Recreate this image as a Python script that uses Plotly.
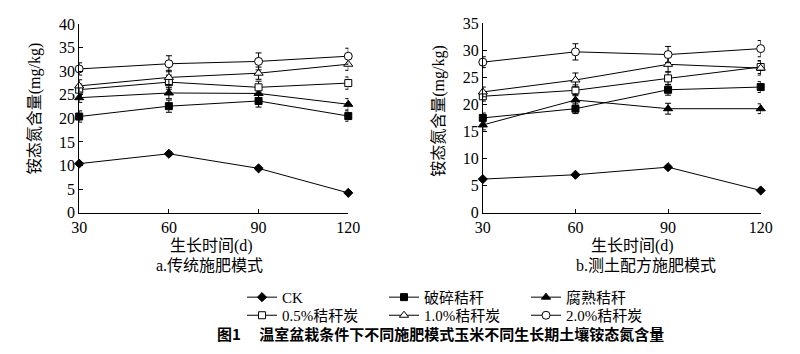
import plotly.graph_objects as go

days = [30, 60, 90, 120]
series_names = ["CK", "破碎秸秆", "腐熟秸秆", "0.5%秸秆炭", "1.0%秸秆炭", "2.0%秸秆炭"]

# a. 传统施肥模式
a_ck = [10.4, 12.5, 9.4, 4.2]
a_broken = [20.4, 22.6, 23.7, 20.5]
a_composted = [24.4, 25.4, 25.3, 23.0]
a_bc05 = [26.1, 27.7, 26.6, 27.5]
a_bc10 = [26.9, 28.7, 29.6, 31.5]
a_bc20 = [30.5, 31.6, 32.1, 33.2]
a_ck_err = [0.3, 0.4, 0.3, 0.2]
a_broken_err = [1.2, 1.3, 1.3, 1.1]
a_composted_err = [1.0, 1.2, 1.0, 1.2]
a_bc05_err = [1.2, 1.5, 1.3, 1.3]
a_bc10_err = [1.3, 1.5, 1.3, 1.3]
a_bc20_err = [1.3, 1.7, 1.8, 1.7]

# b. 测土配方施肥模式
b_ck = [6.2, 7.0, 8.4, 4.1]
b_broken = [17.5, 19.2, 22.7, 23.2]
b_composted = [16.2, 20.8, 19.2, 19.2]
b_bc05 = [21.5, 22.6, 24.8, 26.9]
b_bc10 = [22.3, 24.5, 27.4, 26.7]
b_bc20 = [27.8, 29.7, 29.2, 30.3]
b_ck_err = [0.2, 0.2, 0.3, 0.2]
b_broken_err = [0.9, 0.9, 1.0, 1.0]
b_composted_err = [0.9, 1.0, 1.0, 0.9]
b_bc05_err = [0.9, 1.0, 1.2, 1.2]
b_bc10_err = [0.9, 1.3, 1.4, 1.3]
b_bc20_err = [1.0, 1.5, 1.5, 1.5]

x_tick_vals = [30, 60, 90, 120]
a_y_ticks = [0, 5, 10, 15, 20, 25, 30, 35, 40]
b_y_ticks = [0, 5, 10, 15, 20, 25, 30, 35]

symbols = ["diamond", "square", "triangle-up", "square", "triangle-up", "circle"]
fills = ["black", "black", "black", "white", "white", "white"]
sizes = [7, 7, 8, 7, 8, 8]

SERIF = "Liberation Serif, Times New Roman, Noto Sans CJK SC"
fig = go.Figure()

a_vals = [a_ck, a_broken, a_composted, a_bc05, a_bc10, a_bc20]
a_errs = [a_ck_err, a_broken_err, a_composted_err, a_bc05_err, a_bc10_err, a_bc20_err]
b_vals = [b_ck, b_broken, b_composted, b_bc05, b_bc10, b_bc20]
b_errs = [b_ck_err, b_broken_err, b_composted_err, b_bc05_err, b_bc10_err, b_bc20_err]

for i, name in enumerate(series_names):
    for vals, errs, xa, ya, show in [(a_vals, a_errs, "x", "y", True), (b_vals, b_errs, "x2", "y2", False)]:
        fig.add_trace(go.Scatter(
            x=days, y=vals[i], name=name, mode="lines+markers",
            xaxis=xa, yaxis=ya, showlegend=show,
            legend="legend" if i < 3 else "legend2",
            line=dict(color="black", width=1),
            marker=dict(symbol=symbols[i], size=sizes[i], color=fills[i],
                        line=dict(color="black", width=1)),
            error_y=dict(type="data", array=errs[i], color="black", thickness=1, width=3),
            cliponaxis=False,
        ))

axis_common = dict(showline=True, linecolor="black", linewidth=1, ticks="inside",
                   ticklen=4, tickcolor="black", showgrid=False, zeroline=False,
                   tickfont=dict(family=SERIF, size=16, color="black"))
legend_common = dict(orientation="h", x=0.30, xanchor="left", yanchor="middle",
                     entrywidth=97, entrywidthmode="pixels", bgcolor="rgba(0,0,0,0)",
                     font=dict(family=SERIF, size=15, color="black"), tracegroupgap=0, itemwidth=30)
fig.update_layout(
    width=800, height=354, margin=dict(l=0, r=0, t=0, b=0),
    paper_bgcolor="white", plot_bgcolor="white",
    xaxis=dict(domain=[0.09125, 0.43625], range=[30, 120], tickvals=x_tick_vals, anchor="y", **axis_common),
    yaxis=dict(domain=[0.3927, 0.952], range=[0, 40], tickvals=a_y_ticks, anchor="x", **axis_common),
    xaxis2=dict(domain=[0.60875, 0.965], range=[30, 120], tickvals=x_tick_vals, anchor="y2", **axis_common),
    yaxis2=dict(domain=[0.3927, 0.955], range=[0, 35], tickvals=b_y_ticks, anchor="x2", **axis_common),
    legend=dict(y=1 - 304 / 354, **legend_common),
    legend2=dict(y=1 - 323 / 354, **legend_common),
)

def ann(text, x, y, size=16, angle=0, family=SERIF, bold=False):
    fig.add_annotation(text=f"<b>{text}</b>" if bold else text, x=x / 800, y=1 - y / 354,
                       xref="paper", yref="paper", showarrow=False, textangle=angle,
                       font=dict(family=family, size=size, color="black"),
                       xanchor="center", yanchor="middle")

ann("铵态氮含量(mg/kg)", 28, 105, angle=-90)
ann("铵态氮含量(mg/kg)", 442, 108, angle=-90)
ann("生长时间(d)", 209, 250)
ann("生长时间(d)", 640, 250)
ann("a.传统施肥模式", 207, 271)
ann("b.测土配方施肥模式", 654, 271)
ann("图1　 温室盆栽条件下不同施肥模式玉米不同生长期土壤铵态氮含量", 444, 342,
    size=15, family="Noto Sans CJK SC", bold=True)

fig.write_html("out.html")
